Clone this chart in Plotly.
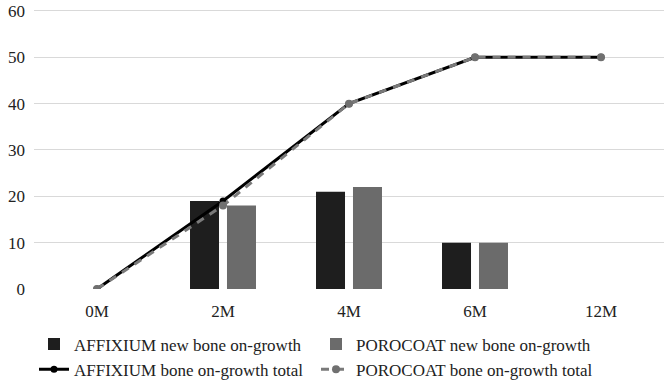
import plotly.graph_objects as go

categories = ["0M", "2M", "4M", "6M", "12M"]
affixium_new = [0, 19, 21, 10, 0]
porocoat_new = [0, 18, 22, 10, 0]
affixium_total = [0, 19, 40, 50, 50]
porocoat_total = [0, 18, 40, 50, 50]
y_ticks = [0, 10, 20, 30, 40, 50, 60]

FONT = "Liberation Serif, Times New Roman, serif"

fig = go.Figure()
fig.add_trace(go.Bar(x=categories, y=affixium_new, name="AFFIXIUM new bone on-growth",
                     marker=dict(color="#1e1e1e", line=dict(width=0))))
fig.add_trace(go.Bar(x=categories, y=porocoat_new, name="POROCOAT new bone on-growth",
                     marker=dict(color="#6b6b6b", line=dict(width=0))))
fig.add_trace(go.Scatter(x=categories, y=affixium_total, name="AFFIXIUM bone on-growth total",
                         mode="lines+markers",
                         line=dict(color="#000000", width=3),
                         marker=dict(color="#000000", size=7)))
fig.add_trace(go.Scatter(x=categories, y=porocoat_total, name="POROCOAT bone on-growth total",
                         mode="lines+markers",
                         line=dict(color="#7a7a7a", width=3, dash="8px,7px"),
                         marker=dict(color="#707070", size=8)))

fig.update_layout(
    width=666, height=381,
    margin=dict(l=34, r=2, t=5, b=92),
    plot_bgcolor="white", paper_bgcolor="white",
    font=dict(family=FONT, size=17, color="#222222"),
    barmode="group", bargap=0.413, bargroupgap=0.216,
    showlegend=True,
    legend=dict(orientation="h", xref="paper", x=0, xanchor="left",
                yref="container", y=0.143, yanchor="top",
                entrywidth=237, entrywidthmode="pixels",
                font=dict(family=FONT, size=17, color="#222222"),
                traceorder="normal", tracegroupgap=0, itemwidth=30),
    xaxis=dict(showgrid=False, showline=False, zeroline=False, ticks="",
               ticklabelstandoff=10,
               tickfont=dict(family=FONT, size=17, color="#222222")),
    yaxis=dict(range=[0, 60.64], tickvals=y_ticks, showgrid=True, gridcolor="#d9d9d9",
               gridwidth=1, zeroline=False, showline=False, ticks="",
               ticklabelstandoff=8, ticklabeloverflow="allow",
               tickfont=dict(family=FONT, size=17, color="#222222")),
)

fig.write_html("out.html")
